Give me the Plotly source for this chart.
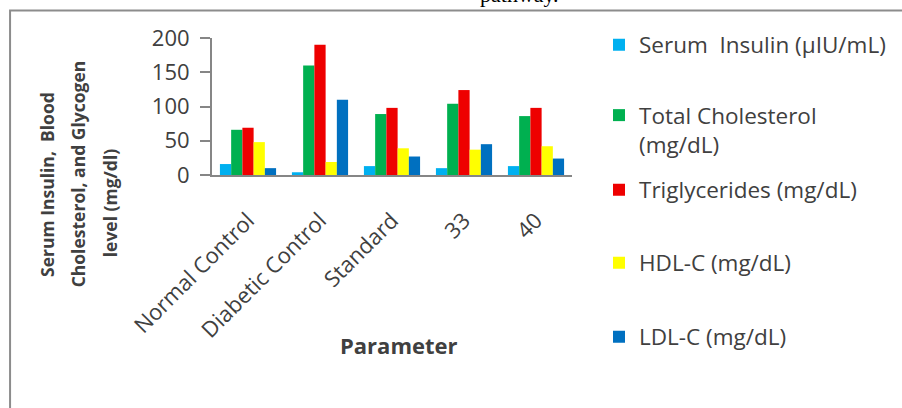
import plotly.graph_objects as go

categories = ["Normal Control", "Diabetic Control", "Standard", "33", "40"]
serum_insulin = [16, 4, 13, 10, 13]
total_cholesterol = [66, 160, 89, 104, 86]
triglycerides = [69, 190, 98, 124, 98]
hdl_c = [48, 19, 39, 37, 42]
ldl_c = [10, 110, 27, 45, 24]

series_names = ["Serum  Insulin (µIU/mL)", "Total Cholesterol<br>(mg/dL)",
                "Triglycerides (mg/dL)", "HDL-C (mg/dL)", "LDL-C (mg/dL)"]
series_values = [serum_insulin, total_cholesterol, triglycerides, hdl_c, ldl_c]
colors = ["#00B0F0", "#00B050", "#EE0000", "#FFFF00", "#0070C0"]
y_ticks = [0, 50, 100, 150, 200]

W, H = 902, 408
L, R, T, B = 212, 329, 38, 233
PW, PH = W - L - R, H - T - B

def px_x(x):
    return (x - L) / PW

def px_y(y):
    return (H - B - y) / PH

TXT = "#404040"
FONT = "Open Sans"

fig = go.Figure()
legend_ys = [45, 130, 190, 263, 337]
for i, (name, vals, col) in enumerate(zip(series_names, series_values, colors)):
    lg = "legend" if i == 0 else f"legend{i+1}"
    fig.add_trace(go.Bar(x=categories, y=vals, name=name, marker=dict(color=col, line=dict(width=0)),
                         legend=lg))

layout_legends = {}
for i, yy in enumerate(legend_ys):
    key = "legend" if i == 0 else f"legend{i+1}"
    layout_legends[key] = dict(
        x=px_x(599), y=px_y(yy), xanchor="left", yanchor="middle",
        font=dict(family=FONT, size=22.5, color=TXT), bgcolor="rgba(0,0,0,0)",
        valign="top", itemclick=False,
    )

fig.update_layout(
    width=W, height=H,
    margin=dict(l=L, r=R, t=T, b=B, pad=0),
    paper_bgcolor="white", plot_bgcolor="white",
    barmode="group", bargap=0.22, bargroupgap=0,
    showlegend=True,
    font=dict(family=FONT, color=TXT),
    **layout_legends,
)

fig.update_yaxes(
    range=[0, 200], tickvals=y_ticks, ticks="outside", ticklen=10, tickwidth=2,
    tickcolor="#868686", showline=True, linecolor="#868686", linewidth=2,
    showgrid=False, zeroline=False, tickfont=dict(family=FONT, size=22, color=TXT),
    ticklabelstandoff=6,
)
fig.update_xaxes(
    showline=True, linecolor="#868686", linewidth=2, ticks="", showgrid=False,
    tickangle=-45, tickfont=dict(family=FONT, size=22, color=TXT),
    ticklabelstandoff=22,
)

# y-axis title lines
ytitle_lines = [("Serum Insulin,  Blood", 46.5, 184), ("Cholesterol, and Glycogen", 78, 174),
                ("level (mg/dl)", 110, 203)]
for txt, xx, yy in ytitle_lines:
    fig.add_annotation(text=f"<b>{txt}</b>", x=px_x(xx), y=px_y(yy), xref="paper", yref="paper",
                       textangle=-90, showarrow=False, xanchor="center", yanchor="middle",
                       font=dict(family=FONT, size=17.5, color=TXT))

fig.add_annotation(text="<b>Parameter</b>", x=px_x(400), y=px_y(345), xref="paper", yref="paper",
                   showarrow=False, xanchor="center", yanchor="middle",
                   font=dict(family=FONT, size=22, color=TXT))

fig.add_annotation(text="pathway.", x=px_x(520), y=px_y(9), xref="paper", yref="paper",
                   showarrow=False, xanchor="center", yanchor="bottom",
                   font=dict(family="Liberation Serif", size=22, color="black"))

fig.add_shape(type="rect", xref="paper", yref="paper",
              x0=px_x(9.5), x1=px_x(920), y0=px_y(430), y1=px_y(10.5),
              line=dict(color="#8c8c8c", width=2), fillcolor="rgba(0,0,0,0)", layer="below")

fig.write_html("out.html", config={"displayModeBar": False},
               post_script="document.body.style.margin='0';document.body.style.overflow='hidden';")
